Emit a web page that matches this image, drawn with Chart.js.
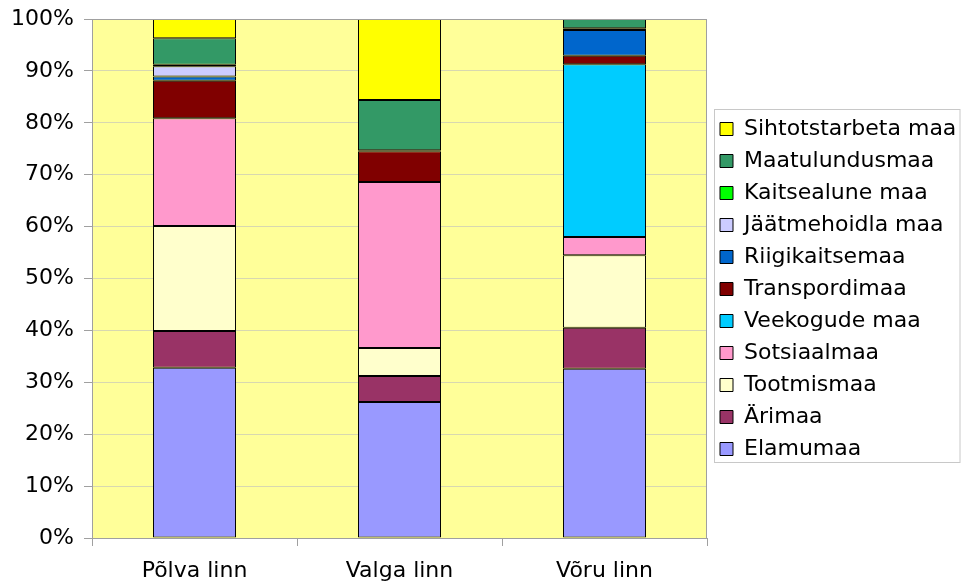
<!DOCTYPE html>
<html>
<head>
<meta charset="utf-8">
<script src="https://cdn.jsdelivr.net/npm/chart.js@4.4.0/dist/chart.umd.min.js"></script>
<style>
  html, body { margin: 0; padding: 0; background: #fff; }
  #wrap { width: 961px; height: 581px; }
</style>
</head>
<body>
<div id="wrap"><canvas id="grafico" width="961" height="581"></canvas></div>
<script>
// kategooriad
var categories = ['Põlva linn', 'Valga linn', 'Võru linn'];

// osakaalud (%) alt üles
var elamumaa       = [32.8, 26.2, 32.6];
var arimaa         = [7.1, 5.0, 7.9];
var tootmismaa     = [20.2, 5.4, 14.0];
var sotsiaalmaa    = [20.8, 32.0, 3.5];
var veekogudeMaa   = [null, null, 33.3];
var transpordimaa  = [7.2, 5.9, 1.6];
var riigikaitsemaa = [0.8, null, 5.0];
var jaatmehoidla   = [2.0, null, null];
var kaitsealune    = [0.3, 0.2, 0.3];
var maatulundusmaa = [5.1, 9.7, 1.8];
var sihtotstarbeta = [3.7, 15.6, null];

var yTicks = [0, 10, 20, 30, 40, 50, 60, 70, 80, 90, 100];

function ds(label, values, color) {
    return {
        label: label,
        data: values,
        backgroundColor: color,
        borderColor: '#000000',
        borderWidth: 1,
        borderSkipped: false
    };
}

var data = {
    labels: categories,
    datasets: [
        ds('Elamumaa', elamumaa, '#9999FF'),
        ds('Ärimaa', arimaa, '#993366'),
        ds('Tootmismaa', tootmismaa, '#FFFFCC'),
        ds('Sotsiaalmaa', sotsiaalmaa, '#FF99CC'),
        ds('Veekogude maa', veekogudeMaa, '#00CCFF'),
        ds('Transpordimaa', transpordimaa, '#800000'),
        ds('Riigikaitsemaa', riigikaitsemaa, '#0066CC'),
        ds('Jäätmehoidla maa', jaatmehoidla, '#CCCCFF'),
        ds('Kaitsealune maa', kaitsealune, '#00FF00'),
        ds('Maatulundusmaa', maatulundusmaa, '#339966'),
        ds('Sihtotstarbeta maa', sihtotstarbeta, '#FFFF00')
    ]
};

// legendi laius fikseeritud, et joonis lõpeks x=707 juures
var LEG_DX = 3, LEG_DY = -11;
var LegendEl = Chart.Legend._element;
var origFit = LegendEl.prototype.fit;
LegendEl.prototype.fit = function () {
    origFit.call(this);
    if (!this.isHorizontal()) { this.width = 254; }
};
var origDraw = LegendEl.prototype.draw;
LegendEl.prototype.draw = function () {
    var c = this.ctx;
    c.save();
    c.translate(LEG_DX, LEG_DY);
    origDraw.call(this);
    c.restore();
};

// joonise taust ja raam
var plotBg = {
    id: 'plotBg',
    beforeDraw: function (chart) {
        var a = chart.chartArea, c = chart.ctx;
        c.save();
        c.fillStyle = '#FFFF99';
        c.fillRect(a.left, a.top, a.right - a.left, a.bottom - a.top);
        c.restore();
    },
    afterDatasetsDraw: function (chart) {
        var a = chart.chartArea, c = chart.ctx;
        c.save();
        c.strokeStyle = '#A0A0A0';
        c.lineWidth = 1;
        c.strokeRect(a.left + 0.5, a.top + 0.5, a.right - a.left - 1, a.bottom - a.top);
        c.restore();
    }
};

// legendi raam
var legendBox = {
    id: 'legendBox',
    afterDraw: function (chart) {
        var boxes = chart.legend.legendHitBoxes;
        if (!boxes || !boxes.length) return;
        var top = Infinity, bottom = -Infinity, left = Infinity;
        boxes.forEach(function (b) {
            top = Math.min(top, b.top);
            bottom = Math.max(bottom, b.top + b.height);
            left = Math.min(left, b.left);
        });
        left += LEG_DX; top += LEG_DY; bottom += LEG_DY;
        var c = chart.ctx;
        c.save();
        c.strokeStyle = '#C8C8C8';
        c.lineWidth = 1;
        c.strokeRect(left - 5.5, top - 8.5, 960 - (left - 5.5), bottom - top + 11);
        c.restore();
    }
};

var options = {
    responsive: false,
    animation: false,
    layout: { padding: { top: 19, right: 0, left: 0, bottom: 0 } },
    plugins: {
        legend: {
            position: 'right',
            reverse: true,
            labels: {
                boxWidth: 13,
                boxHeight: 13,
                padding: 10,
                color: '#000',
                font: { family: 'DejaVu Sans', size: 22 }
            }
        },
        tooltip: { enabled: false }
    },
    scales: {
        x: {
            stacked: true,
            afterFit: function (axis) { axis.height = 43; },
            grid: { offset: true, drawOnChartArea: false, tickLength: 8, color: '#A0A0A0' },
            border: { color: '#A0A0A0' },
            ticks: { color: '#000', padding: 12, font: { family: 'DejaVu Sans', size: 22 } }
        },
        y: {
            stacked: true,
            min: 0,
            max: 100,
            afterBuildTicks: function (axis) {
                axis.ticks = yTicks.map(function (v) { return { value: v }; });
            },
            afterFit: function (axis) {
                axis.width = 92;
                axis.paddingTop = 0;
                axis.paddingBottom = 0;
            },
            grid: { color: '#D8D8B0', tickLength: 8, tickColor: '#A0A0A0' },
            border: { color: '#A0A0A0' },
            ticks: {
                color: '#000',
                padding: 10,
                font: { family: 'DejaVu Sans', size: 22 },
                callback: function (v) { return v + '%'; }
            }
        }
    },
    datasets: {
        bar: { categoryPercentage: 1.0, barPercentage: 0.405 }
    }
};

var ctx = document.querySelector('#grafico').getContext('2d');
var barChart = new Chart(ctx, {
    type: 'bar',
    data: data,
    options: options,
    plugins: [plotBg, legendBox]
});
</script>
</body>
</html>
